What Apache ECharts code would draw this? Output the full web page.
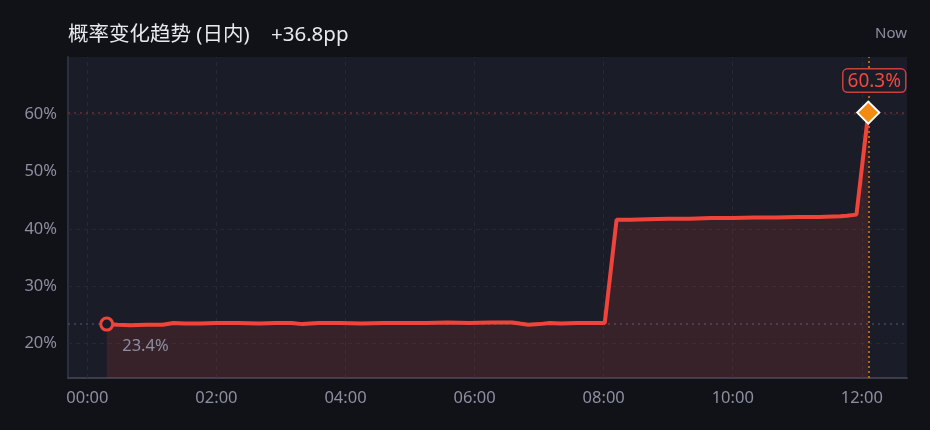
<!DOCTYPE html>
<html>
<head>
<meta charset="utf-8">
<script src="https://cdn.jsdelivr.net/npm/echarts@6/dist/echarts.min.js"></script>
<style>
  html, body { margin: 0; padding: 0; background: #111217; }
  #main { width: 930px; height: 430px; }
</style>
</head>
<body>
<div id="main"></div>
<script>
// minutes since 00:00
var times = [18, 28, 40, 55, 70, 80, 90, 105, 120, 140, 160, 175, 190, 200, 215, 235, 255, 275, 295, 315, 335, 355, 375, 395, 402, 410, 420, 430, 440, 455, 470, 481,
  492, 505, 520, 540, 560, 580, 600, 620, 640, 660, 680, 700, 706, 715, 726];
var probs = [23.4, 23.3, 23.2, 23.3, 23.3, 23.6, 23.5, 23.5, 23.6, 23.6, 23.5, 23.6, 23.6, 23.4, 23.6, 23.6, 23.5, 23.6, 23.6, 23.6, 23.7, 23.6, 23.7, 23.7, 23.5, 23.3, 23.4, 23.6, 23.5, 23.6, 23.6, 23.6,
  41.6, 41.6, 41.7, 41.8, 41.8, 41.9, 41.9, 42.0, 42.0, 42.1, 42.1, 42.2, 42.3, 42.5, 60.3];
var yTicks = [20, 30, 40, 50, 60];
var xTicks = [0, 120, 240, 360, 480, 600, 720];
var titleText = '概率变化趋势 (日内)';
var changeText = '+36.8pp';

var font = "'Noto Sans', 'Noto Sans CJK SC', sans-serif";
var chart = echarts.init(document.getElementById('main'));

function hhmm(m) {
  var h = Math.floor(m / 60);
  return (h < 10 ? '0' : '') + h + ':00';
}

var lineData = times.map(function (t, i) { return [t, probs[i]]; });
var last = lineData.length - 1;
lineData[0] = {
  value: lineData[0],
  symbol: 'circle',
  symbolSize: 12,
  itemStyle: { color: '#1a1c28', borderColor: '#f0443a', borderWidth: 3 },
  label: {
    show: true, position: 'right', offset: [3, 22],
    formatter: probs[0].toFixed(1) + '%',
    color: '#8c8fa0', fontSize: 16.5, fontFamily: font
  }
};
lineData[last] = {
  value: lineData[last],
  symbol: 'diamond',
  symbolSize: 22,
  itemStyle: { color: '#f28c10', borderColor: '#ffffff', borderWidth: 2 },
  label: {
    show: true, position: 'top', distance: 9, offset: [6, 0],
    formatter: probs[last].toFixed(1) + '%',
    color: '#ef4a3e', fontSize: 19, fontFamily: font,
    backgroundColor: '#1a1c28', borderColor: '#c9413a', borderWidth: 1.5,
    borderRadius: 4, padding: [2, 4, 1, 4]
  }
};

var gridLines = [];
yTicks.forEach(function (v) {
  gridLines.push({ yAxis: v, lineStyle: { color: '#252835', type: [4, 4], width: 1 } });
});
xTicks.forEach(function (v) {
  gridLines.push({ xAxis: v, lineStyle: { color: '#252835', type: [4, 4], width: 1 } });
});
gridLines.push({ yAxis: probs[0], lineStyle: { color: '#3f4564', type: [2, 4], width: 1.5 } });
gridLines.push({ yAxis: probs[last], lineStyle: { color: '#6c2f35', type: [2, 4], width: 1.5 } });
gridLines.push({ xAxis: times[last], lineStyle: { color: '#e0800f', type: [2, 3], width: 1.5 } });

chart.setOption({
  backgroundColor: '#111217',
  animation: false,
  title: [{
    text: titleText + '    ' + changeText,
    left: 63, top: 20,
    textStyle: { color: '#e8e9ee', fontSize: 20.5, fontWeight: 'normal', fontFamily: font }
  }, {
    text: 'Now',
    right: 18, top: 21,
    textStyle: { color: '#8c8fa0', fontSize: 15, fontWeight: 'normal', fontFamily: font }
  }],
  grid: {
    left: 68, right: 23, top: 57, bottom: 52,
    show: true, backgroundColor: '#1a1c28', borderWidth: 0
  },
  xAxis: {
    type: 'value', min: -18, max: 762, interval: 6,
    axisLine: { onZero: false, lineStyle: { color: '#3a3d4b', width: 2 } },
    axisTick: { show: false },
    splitLine: { show: false },
    axisLabel: {
      color: '#8c8fa0', fontSize: 16.5, fontFamily: font, margin: 12,
      formatter: function (v) { return (v >= 0 && v % 120 === 0) ? hhmm(v) : ''; }
    }
  },
  yAxis: {
    type: 'value', min: 14, max: 70, interval: 2,
    axisLine: { show: true, onZero: false, lineStyle: { color: '#2c2f3c', width: 2 } },
    axisTick: { show: false },
    splitLine: { show: false },
    axisLabel: {
      color: '#8c8fa0', fontSize: 16.5, fontFamily: font, margin: 11,
      formatter: function (v) { return (v % 10 === 0 && v < 70) ? v + '%' : ''; }
    }
  },
  series: [{
    name: 'grid',
    type: 'line',
    data: [],
    z: 1,
    silent: true,
    markLine: {
      z: 1,
      silent: true, symbol: 'none', label: { show: false },
      data: gridLines
    }
  }, {
    name: 'prob',
    type: 'line',
    data: lineData,
    z: 3,
    showSymbol: true,
    symbol: 'none',
    lineStyle: { color: '#f0443a', width: 4 },
    itemStyle: { color: '#f0443a' },
    areaStyle: { color: 'rgba(240, 68, 58, 0.2)', origin: 'start' }
  }]
});
</script>
</body>
</html>
